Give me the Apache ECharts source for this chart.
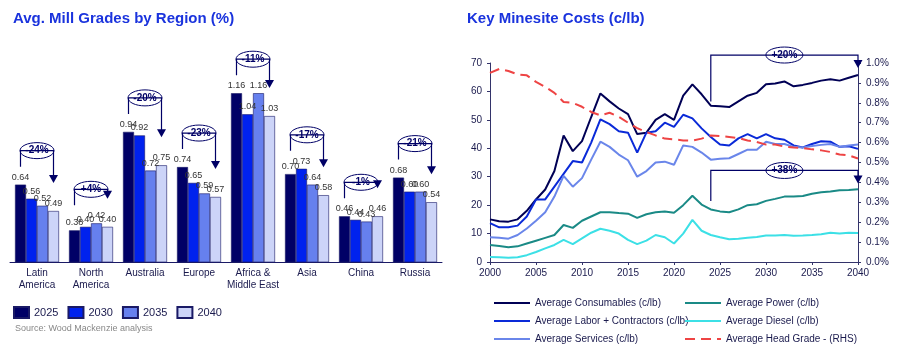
<!DOCTYPE html>
<html>
<head>
    <meta charset="utf-8">
    <script src="https://cdn.jsdelivr.net/npm/echarts@6/dist/echarts.min.js"></script>
    <style>
        body { margin: 0; background: #fff; }
    </style>
</head>
<body>
<div id="main" style="width: 902px;height:350px;"></div>
<script type="text/javascript">

// left chart data
var regions = ['Latin\nAmerica', 'North\nAmerica', 'Australia', 'Europe', 'Africa &\nMiddle East', 'Asia', 'China', 'Russia'];
var gradeYears = ['2025', '2030', '2035', '2040'];
var grade2025 = [0.64, 0.38, 0.94, 0.74, 1.16, 0.70, 0.46, 0.68];
var grade2030 = [0.56, 0.40, 0.92, 0.65, 1.04, 0.73, 0.44, 0.60];
var grade2035 = [0.52, 0.42, 0.72, 0.59, 1.16, 0.64, 0.43, 0.60];
var grade2040 = [0.49, 0.40, 0.75, 0.57, 1.03, 0.58, 0.46, 0.54];
var gradeChange = ['-24%', '+4%', '-20%', '-23%', '-11%', '-17%', '-1%', '-21%'];

// right chart data, 2000..2040
var years = [];
for (var y = 2000; y <= 2040; y++) years.push(y);
var consumables = [15, 14.3, 14.2, 15, 18, 22, 25.5, 32, 44.5, 39, 42.5, 51, 59.3, 56.5, 54, 52, 45, 45.5, 50, 52, 50, 58.5, 62.5, 59, 55,
    54.8, 54.5, 56.5, 58.5, 59.5, 62.5, 62.8, 63.5, 61.8, 62.3, 63, 63.8, 64.3, 63.8, 64.8, 65.8];
var labor = [13.7, 12.2, 12.2, 12.8, 16, 22, 22, 26.5, 31, 35.5, 35, 42, 50.2, 48.5, 46, 45.5, 38.5, 45.5, 46, 49, 47.5, 51.8, 50.5, 47, 44,
    41.3, 41, 43.5, 45, 43.5, 45, 43.5, 43, 41, 40.3, 41.5, 42.5, 42.3, 40.5, 40.7, 39.8];
var services = [8.7, 8.5, 8.2, 9.5, 11.8, 14.5, 17.5, 23, 30.3, 26.5, 29.5, 36, 42.3, 40.5, 37.8, 35.8, 30, 32, 35, 35.3, 34.2, 41, 40.5, 38.5, 36,
    36.3, 36.5, 38, 39.5, 39.5, 42.3, 41.5, 41.5, 40.5, 40.3, 40.8, 41.2, 41.5, 40.5, 41, 41.3];
var power = [6, 5.6, 5.2, 5.5, 6.5, 7.5, 8.5, 9.5, 13, 12, 14.5, 16, 17.5, 17.5, 17.2, 17, 15.5, 16.8, 17.5, 17.8, 17.3, 20, 23.3, 20.2, 18.5,
    17.8, 17.5, 18.5, 20, 20.3, 21.5, 22.2, 23, 23, 23.2, 24, 24.5, 24.8, 25.2, 25.3, 25.6];
var diesel = [1.8, 1.7, 1.5, 1.7, 2.4, 3.5, 4.8, 6, 7.8, 6.3, 8.3, 10.3, 11.7, 11, 10, 7.8, 6.3, 7.5, 9.5, 8.7, 6.5, 10, 14.8, 11, 9.5,
    8.7, 8, 8.2, 8.5, 8.8, 9.3, 9.3, 9.5, 9.2, 9.3, 9.5, 9.8, 10.3, 10, 10.3, 10.2];
var headGrade = [0.95, 0.97, 0.96, 0.943, 0.938, 0.905, 0.88, 0.85, 0.804, 0.80, 0.78, 0.754, 0.737, 0.75, 0.73, 0.70, 0.673, 0.653, 0.636, 0.62, 0.616, 0.611, 0.61, 0.62, 0.636,
    0.633, 0.628, 0.623, 0.611, 0.603, 0.59, 0.59, 0.58, 0.575, 0.573, 0.566, 0.561, 0.553, 0.54, 0.536, 0.52];
var costChange = ['+20%', '+38%'];

var navy = '#000066';
var textCol = '#1a1a4d';
var font = 'Liberation Sans, Arial, sans-serif';

function pairs(arr) {
    return arr.map(function (v, i) { return [years[i], v]; });
}

var myChart = echarts.init(document.getElementById('main'));

var barColors = ['#000066', '#0022ee', '#6680ee', '#ccd4f8'];
var gradeSeries = [grade2025, grade2030, grade2035, grade2040];

var series = gradeSeries.map(function (d, i) {
    return {
        name: gradeYears[i],
        type: 'bar',
        xAxisIndex: 0,
        yAxisIndex: 0,
        barWidth: 11,
        barGap: '0%',
        data: d,
        itemStyle: { color: barColors[i], borderColor: '#1a1a66', borderWidth: 0.6 },
        label: {
            show: true, position: 'top', distance: 3,
            fontSize: 9, color: '#333', fontFamily: font,
            formatter: function (p) { return p.value.toFixed(2); }
        }
    };
});

var lineDefs = [
    ['Average Consumables (c/lb)', consumables, '#000055', 'solid', 0],
    ['Average Labor + Contractors (c/lb)', labor, '#0a2ad8', 'solid', 0],
    ['Average Services (c/lb)', services, '#6a86ea', 'solid', 0],
    ['Average Power (c/lb)', power, '#1a8a86', 'solid', 0],
    ['Average Diesel (c/lb)', diesel, '#3ce0e6', 'solid', 0],
    ['Average Head Grade - (RHS)', headGrade, '#ee4444', [10, 6], 2]
];
lineDefs.forEach(function (d) {
    series.push({
        name: d[0],
        type: 'line',
        xAxisIndex: 1,
        yAxisIndex: d[4] === 2 ? 2 : 1,
        data: pairs(d[1]),
        showSymbol: false,
        symbol: 'none',
        lineStyle: { color: d[2], width: 2, type: d[3] },
        itemStyle: { color: d[2] }
    });
});

var option = {
    animation: false,
    textStyle: { fontFamily: font },
    title: [
        { text: 'Avg. Mill Grades by Region (%)', left: 8, top: 6,
          textStyle: { fontSize: 15, fontWeight: 'bold', color: '#1a33dd', fontFamily: font } },
        { text: 'Key Minesite Costs (c/lb)', left: 462, top: 6,
          textStyle: { fontSize: 15, fontWeight: 'bold', color: '#1a33dd', fontFamily: font } },
        { text: 'Source: Wood Mackenzie analysis', left: 10, top: 319,
          textStyle: { fontSize: 9, fontWeight: 'normal', color: '#888', fontFamily: font } }
    ],
    legend: [
        {
            data: gradeYears, left: 8, top: 301, itemWidth: 15, itemHeight: 11, itemGap: 9,
            icon: 'rect',
            textStyle: { fontSize: 11, color: textCol, fontFamily: font }
        },
        {
            data: lineDefs.slice(0, 3).map(function (d) { return d[0]; }),
            orient: 'vertical', left: 493, top: 297, height: 60, itemWidth: 36, itemHeight: 2, itemGap: 6,
            padding: 0,
            textStyle: { fontSize: 10, color: textCol, fontFamily: font, lineHeight: 12 }
        },
        {
            data: lineDefs.slice(3).map(function (d) { return d[0]; }),
            orient: 'vertical', left: 684, top: 297, height: 60, itemWidth: 36, itemHeight: 2, itemGap: 6,
            padding: 0,
            textStyle: { fontSize: 10, color: textCol, fontFamily: font, lineHeight: 12 }
        }
    ],
    grid: [
        { left: 10, width: 432, top: 51, bottom: 88 },
        { left: 490, right: 44, top: 63, bottom: 88 }
    ],
    xAxis: [
        {
            type: 'category', gridIndex: 0, data: regions,
            axisLine: { lineStyle: { color: '#1a1a66', width: 1 } },
            axisTick: { show: false },
            axisLabel: { interval: 0, fontSize: 10, color: textCol, lineHeight: 12, margin: 5, fontFamily: font }
        },
        {
            type: 'value', gridIndex: 1, min: 2000, max: 2040, interval: 5,
            axisLine: { lineStyle: { color: '#33336a' } },
            axisTick: { show: true, length: 3 },
            splitLine: { show: false },
            axisLabel: { fontSize: 10, color: textCol, margin: 6, fontFamily: font,
                formatter: function (v) { return String(v); } }
        }
    ],
    yAxis: [
        { type: 'value', gridIndex: 0, min: 0.2, max: 1.4, show: false, splitLine: { show: false } },
        {
            type: 'value', gridIndex: 1, min: 0, max: 70, interval: 10,
            axisLine: { show: true, lineStyle: { color: '#33336a' } },
            axisTick: { show: true, length: 3 },
            splitLine: { show: false },
            axisLabel: { fontSize: 10, color: textCol, fontFamily: font }
        },
        {
            type: 'value', gridIndex: 1, position: 'right', min: 0, max: 1.0, interval: 0.1,
            axisLine: { show: true, lineStyle: { color: '#33336a' } },
            axisTick: { show: true, length: 3 },
            splitLine: { show: false },
            axisLabel: { fontSize: 10, color: textCol, fontFamily: font,
                formatter: function (v) { return v.toFixed(1) + '%'; } }
        }
    ],
    series: series
};

myChart.setOption(option);

// annotation brackets, positioned through the axes
function bubble(cx, cy, w, txt) {
    return {
        type: 'group', z: 100,
        children: [
            { type: 'ellipse', shape: { cx: cx, cy: cy, rx: w / 2, ry: 8 },
              style: { fill: '#fff', stroke: navy, lineWidth: 1 } },
            { type: 'text', x: cx, y: cy,
              style: { text: txt, fill: navy, font: 'bold 10px ' + font, align: 'center', verticalAlign: 'middle' } }
        ]
    };
}
function bracket(x1, y1, level, x2, y2) {
    return [
        { type: 'polyline', z: 90, shape: { points: [[x1, y1], [x1, level], [x2, level], [x2, y2 - 7]] },
          style: { stroke: navy, lineWidth: 1.2, fill: null } },
        { type: 'polygon', z: 90, shape: { points: [[x2 - 4.5, y2 - 8], [x2 + 4.5, y2 - 8], [x2, y2]] },
          style: { fill: navy } }
    ];
}

var graphics = [];
regions.forEach(function (r, i) {
    var c = myChart.convertToPixel({ xAxisIndex: 0, yAxisIndex: 0 }, [i, grade2025[i]]);
    var vals = [grade2025[i], grade2030[i], grade2035[i], grade2040[i]];
    var maxV = Math.max.apply(null, vals);
    var topMax = myChart.convertToPixel({ xAxisIndex: 0, yAxisIndex: 0 }, [i, maxV])[1];
    var topLast = myChart.convertToPixel({ xAxisIndex: 0, yAxisIndex: 0 }, [i, grade2040[i]])[1];
    var x1 = c[0] - 16.5, x2 = c[0] + 16.5;
    var level = topMax - 34;
    graphics = graphics.concat(bracket(x1, level + 16, level, x2, Math.min(topLast - 28, level + 40)));
    graphics.push(bubble(c[0], level, 34, gradeChange[i]));
});

var ann = [[consumables[24], 70 + 2.8, 68.2], [power[24] + 1.5, 32.2, 27.6]];
ann.forEach(function (a, i) {
    var p1 = myChart.convertToPixel({ xAxisIndex: 1, yAxisIndex: 1 }, [2024, a[0] + 1.5]);
    var lv = myChart.convertToPixel({ xAxisIndex: 1, yAxisIndex: 1 }, [2032, a[1]]);
    var p2 = myChart.convertToPixel({ xAxisIndex: 1, yAxisIndex: 1 }, [2040, a[2]]);
    graphics = graphics.concat(bracket(p1[0], p1[1], lv[1], p2[0], p2[1]));
    graphics.push(bubble(lv[0], lv[1], 37, costChange[i]));
});

myChart.setOption({ graphic: graphics });

</script>
</body>
</html>
